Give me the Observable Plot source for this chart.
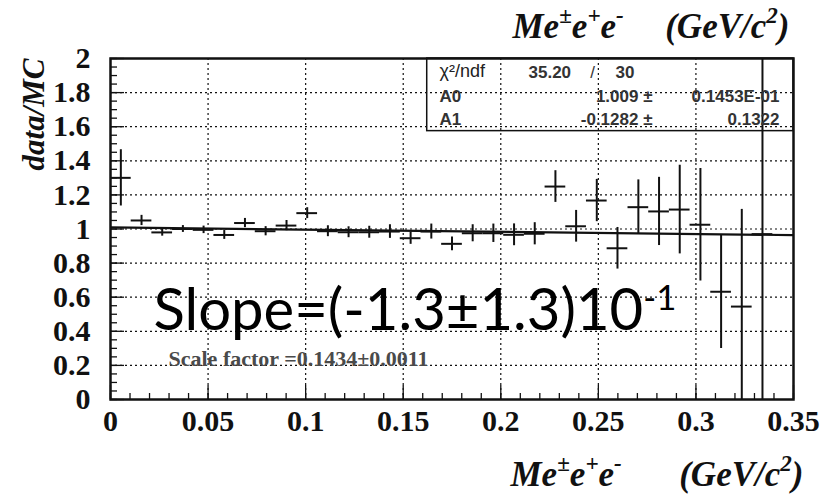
<!DOCTYPE html>
<html>
<head>
<meta charset="utf-8">
<script src="https://cdn.jsdelivr.net/npm/d3@7"></script>
<script src="https://cdn.jsdelivr.net/npm/@observablehq/plot@0.6"></script>
<style>
  html, body { margin: 0; padding: 0; background: white; }
</style>
</head>
<body>
<div id="chart"></div>
<script>
// ---- data ----
const massCenters = [0.0053, 0.0159, 0.0265, 0.0371, 0.0477, 0.0583, 0.0689, 0.0795,
  0.0902, 0.1008, 0.1114, 0.1220, 0.1326, 0.1432, 0.1538, 0.1644, 0.1750, 0.1856,
  0.1962, 0.2068, 0.2174, 0.2280, 0.2386, 0.2492, 0.2598, 0.2705, 0.2811, 0.2917,
  0.3023, 0.3129, 0.3235, 0.3341];
const ratioValues = [1.30, 1.05, 0.98, 1.00, 0.995, 0.965, 1.035, 0.987,
  1.02, 1.093, 0.987, 0.981, 0.981, 0.985, 0.946, 0.985, 0.913, 0.975,
  0.975, 0.966, 0.972, 1.249, 1.016, 1.167, 0.887, 1.128, 1.103, 1.114,
  1.025, 0.632, 0.545, 0.97];
const ratioErrors = [0.165, 0.03, 0.022, 0.02, 0.022, 0.026, 0.027, 0.027,
  0.03, 0.032, 0.032, 0.032, 0.035, 0.04, 0.036, 0.044, 0.04, 0.05,
  0.054, 0.064, 0.065, 0.093, 0.093, 0.124, 0.122, 0.16, 0.2, 0.26,
  0.33, 0.333, 0.57, 1.2];
const binWidth = 0.35 / 33;

// fit result
const A0 = 1.009, A0err = "0.1453E-01";
const A1 = -0.1282, A1err = "0.1322";
const chi2 = "35.20", ndf = "30";
const fitRange = [0, 0.35];

// axes
const xTicks = [0, 0.05, 0.1, 0.15, 0.2, 0.25, 0.3, 0.35];
const xTickLabels = ["0", "0.05", "0.1", "0.15", "0.2", "0.25", "0.3", "0.35"];
const yTicks = [0, 0.2, 0.4, 0.6, 0.8, 1, 1.2, 1.4, 1.6, 1.8, 2];
const yTickLabels = ["0", "0.2", "0.4", "0.6", "0.8", "1", "1.2", "1.4", "1.6", "1.8", "2"];
const xMinor = d3.range(0, 36).map(i => i / 100);
const yMinor = d3.range(0, 41).map(i => i / 20);

const points = massCenters.map((x, i) => ({x, y: ratioValues[i], e: ratioErrors[i]}));
const fitLine = fitRange.map(x => ({x, y: A0 + A1 * x}));

const W = 833, H = 495, mL = 110, mR = 40, mT = 58, mB = 96;
const fw = W - mL - mR, fh = H - mT - mB;

const serifB = {fontFamily: "'Liberation Serif', 'Times New Roman', serif", fontWeight: "bold"};
const serifBI = {...serifB, fontStyle: "italic"};
const sans = {fontFamily: "'Liberation Sans', Arial, sans-serif", lineAnchor: "middle"};
const M = {lineAnchor: "middle"};

const chart = Plot.plot({
  width: W, height: H,
  marginLeft: mL, marginRight: mR, marginTop: mT, marginBottom: mB,
  x: {domain: [0, 0.35]},
  y: {domain: [0, 2]},
  style: {fontFamily: "'Liberation Serif', serif", fontWeight: "bold", fontSize: "30px", background: "white", color: "#111", overflow: "visible"},
  marks: [
    // grid
    Plot.gridX(xTicks.slice(1, -1), {stroke: "#111", strokeOpacity: 1, strokeWidth: 1.2, strokeDasharray: "2,3"}),
    Plot.gridY(yTicks.slice(1, -1), {stroke: "#111", strokeOpacity: 1, strokeWidth: 1.2, strokeDasharray: "2,3"}),
    // minor / major inner ticks
    Plot.tickX(xMinor, {x: d => d, insetTop: fh - 6, stroke: "#111", strokeWidth: 1.3}),
    Plot.tickX(xTicks, {x: d => d, insetTop: fh - 14, stroke: "#111", strokeWidth: 1.3}),
    Plot.tickY(yMinor, {y: d => d, insetRight: fw - 7, stroke: "#111", strokeWidth: 1.3}),
    Plot.tickY(yTicks, {y: d => d, insetRight: fw - 14, stroke: "#111", strokeWidth: 1.3}),
    // stats box
    Plot.rect([0], {x1: 0.1623, x2: 0.35, y1: 1.574, y2: 2, fill: "none", stroke: "#111", strokeWidth: 1.5}),
    // fit line
    Plot.line(fitLine, {x: "x", y: "y", stroke: "#111", strokeWidth: 2.2, clip: true}),
    // error bars
    Plot.ruleX(points, {x: "x", y1: d => d.y - d.e, y2: d => d.y + d.e, stroke: "#111", strokeWidth: 2, clip: true}),
    Plot.ruleY(points, {y: "y", x1: d => d.x - binWidth / 2, x2: d => d.x + binWidth / 2, stroke: "#111", strokeWidth: 2, clip: true}),
    Plot.frame({stroke: "#111", strokeWidth: 2.5}),
    // axes
    Plot.axisX({ticks: xTicks, tickFormat: d => xTickLabels[xTicks.indexOf(d)], tickSize: 0, tickPadding: 10, fontSize: 30, label: null, ...serifB}),
    Plot.axisY({ticks: yTicks, tickFormat: d => yTickLabels[yTicks.indexOf(d)], tickSize: 0, tickPadding: 20, fontSize: 30, label: null, ...serifB}),
    // axis titles
    Plot.text(["data/MC"], {text: d => d, frameAnchor: "top-left", dx: -76, dy: 0, rotate: -90, textAnchor: "end", fontSize: 31, ...serifBI, ...M}),
    Plot.text(["Me±e+e-"], {text: d => d, frameAnchor: "top-left", dx: 402, dy: -32.2, textAnchor: "start", fontSize: 35, ...serifBI, ...M}),
    Plot.text(["(GeV/c2)"], {text: d => d, frameAnchor: "top-right", dx: -4, dy: -32.2, textAnchor: "end", fontSize: 35, ...serifBI, ...M}),
    Plot.text(["Me±e+e-"], {text: d => d, frameAnchor: "bottom-left", dx: 400, dy: 75, textAnchor: "start", fontSize: 35, ...serifBI, ...M}),
    Plot.text(["(GeV/c2)"], {text: d => d, frameAnchor: "bottom-right", dx: 10, dy: 75, textAnchor: "end", fontSize: 35, ...serifBI, ...M}),
    // stats
    Plot.text(["χ²/ndf"], {text: d => d, frameAnchor: "top-left", dx: 329, dy: 13, textAnchor: "start", fontSize: 18, fontWeight: "normal", fill: "#222", ...sans}),
    Plot.text([chi2], {text: d => d, frameAnchor: "top-left", dx: 418, dy: 13.6, textAnchor: "start", fontSize: 17, fontWeight: "bold", fill: "#333", ...sans}),
    Plot.text(["/"], {text: d => d, frameAnchor: "top-left", dx: 482, dy: 13.6, textAnchor: "middle", fontSize: 17, fontWeight: "normal", fill: "#333", ...sans}),
    Plot.text([ndf], {text: d => d, frameAnchor: "top-left", dx: 505, dy: 13.6, textAnchor: "start", fontSize: 17, fontWeight: "bold", fill: "#333", ...sans}),
    Plot.text(["A0"], {text: d => d, frameAnchor: "top-left", dx: 329, dy: 38.4, textAnchor: "start", fontSize: 17, fontWeight: "bold", fill: "#333", ...sans}),
    Plot.text(["A1"], {text: d => d, frameAnchor: "top-left", dx: 329, dy: 61.5, textAnchor: "start", fontSize: 17, fontWeight: "bold", fill: "#333", ...sans}),
    Plot.text([A0.toFixed(3) + " ±"], {text: d => d, frameAnchor: "top-left", dx: 542, dy: 38.4, textAnchor: "end", fontSize: 17, fontWeight: "bold", fill: "#333", ...sans}),
    Plot.text([A1.toFixed(4) + " ±"], {text: d => d, frameAnchor: "top-left", dx: 542, dy: 61.5, textAnchor: "end", fontSize: 17, fontWeight: "bold", fill: "#333", ...sans}),
    Plot.text([A0err], {text: d => d, frameAnchor: "top-left", dx: 669, dy: 38.4, textAnchor: "end", fontSize: 17, fontWeight: "bold", fill: "#333", ...sans}),
    Plot.text([A1err], {text: d => d, frameAnchor: "top-left", dx: 669, dy: 61.5, textAnchor: "end", fontSize: 17, fontWeight: "bold", fill: "#333", ...sans}),
    // annotations
    Plot.text(["Slope=(-1.3±1.3)10-1"], {text: d => d, frameAnchor: "top-left", dx: 43, dy: 253, textAnchor: "start", fontSize: 58, fontWeight: "normal", fontFamily: "Lato, 'Open Sans', sans-serif", fill: "#000", ...M}),
    Plot.text(["Scale factor =0.1434±0.0011"], {text: d => d, frameAnchor: "top-left", dx: 58, dy: 300, textAnchor: "start", fontSize: 22, fill: "#4a4a4a", ...serifB, ...M})
  ]
});
document.getElementById("chart").appendChild(chart);

// superscripts as real tspans
function rich(el, parts, shiftEm, scale) {
  const fs = parseFloat(getComputedStyle(el).fontSize);
  el.textContent = "";
  let shift = 0;
  for (const [t, sup] of parts) {
    const ts = document.createElementNS("http://www.w3.org/2000/svg", "tspan");
    const target = sup ? -shiftEm * fs : 0;
    ts.setAttribute("dy", target - shift);
    shift = target;
    if (sup) ts.setAttribute("font-size", scale * fs);
    ts.textContent = t;
    el.appendChild(ts);
  }
}
chart.querySelectorAll("text").forEach(el => {
  const t = el.textContent;
  if (t === "Me±e+e-") rich(el, [["Me", 0], ["±", 1], ["e", 0], ["+", 1], ["e", 0], ["-", 1]], 0.42, 0.66);
  else if (t === "(GeV/c2)") rich(el, [["(GeV/c", 0], ["2", 1], [")", 0]], 0.42, 0.66);
  else if (t === "Slope=(-1.3±1.3)10-1") rich(el, [["Slope=(-1.3±1.3)10", 0], ["-1", 1]], 0.34, 0.6);
});
</script>
</body>
</html>
